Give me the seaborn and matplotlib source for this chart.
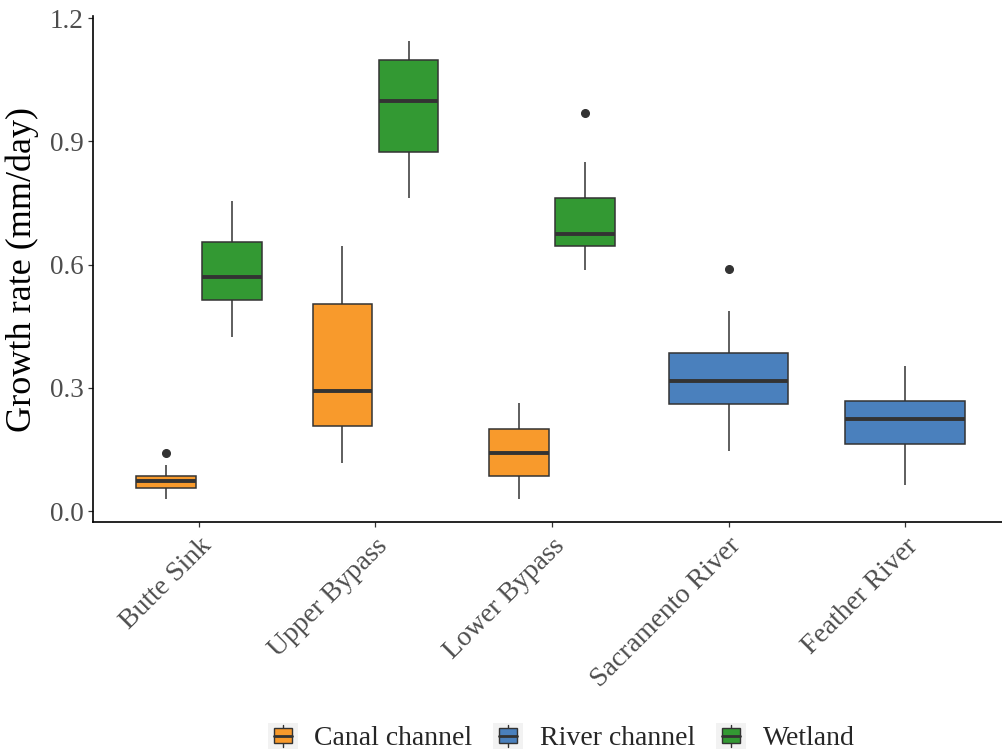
import matplotlib
matplotlib.use("Agg")
import matplotlib.pyplot as plt
from matplotlib.patches import Rectangle, Patch
from matplotlib.lines import Line2D
from matplotlib.legend_handler import HandlerBase
import numpy as np
import pandas as pd
import seaborn as sns

# Sites along the x axis and habitat types
sites = ["Butte Sink", "Upper Bypass", "Lower Bypass", "Sacramento River", "Feather River"]
habitats = ["Canal channel", "River channel", "Wetland"]
colors = ["#F89A2C", "#4A80BD", "#339933"]

# Growth-rate observations (mm/day) per site and habitat
butte_canal = [0.030, 0.045, 0.056, 0.064, 0.072, 0.078, 0.085, 0.113, 0.142]
butte_wetland = [0.423, 0.470, 0.514, 0.540, 0.570, 0.610, 0.655, 0.700, 0.754]
upper_canal = [0.118, 0.160, 0.206, 0.250, 0.293, 0.400, 0.505, 0.580, 0.645]
upper_wetland = [0.763, 0.820, 0.873, 0.940, 0.998, 1.050, 1.099, 1.120, 1.143]
lower_canal = [0.029, 0.060, 0.085, 0.110, 0.142, 0.170, 0.199, 0.230, 0.263]
lower_wetland = [0.586, 0.620, 0.646, 0.660, 0.674, 0.720, 0.763, 0.850, 0.968]
sacramento_river = [0.146, 0.210, 0.260, 0.290, 0.317, 0.350, 0.384, 0.487, 0.589]
feather_river = [0.0625, 0.110, 0.164, 0.190, 0.223, 0.250, 0.267, 0.310, 0.354]

groups = [
    ("Butte Sink", "Canal channel", butte_canal),
    ("Butte Sink", "Wetland", butte_wetland),
    ("Upper Bypass", "Canal channel", upper_canal),
    ("Upper Bypass", "Wetland", upper_wetland),
    ("Lower Bypass", "Canal channel", lower_canal),
    ("Lower Bypass", "Wetland", lower_wetland),
    ("Sacramento River", "River channel", sacramento_river),
    ("Feather River", "River channel", feather_river),
]
df = pd.DataFrame(
    [(s, h, v) for s, h, vals in groups for v in vals],
    columns=["site", "habitat", "growth"],
)

sns.set_theme(style="ticks")
plt.rcParams["font.family"] = ["Liberation Serif", "DejaVu Serif"]

fig = plt.figure(figsize=(10.03, 7.54), dpi=100)
W, H = 1003, 754
ax = fig.add_axes([93 / W, (H - 521.7) / H, (1011 - 93) / W, (521.7 - 16.4) / H])

line_c = "#333333"
common = dict(
    saturation=1,
    linecolor=line_c,
    linewidth=1.1,
    medianprops=dict(linewidth=2.8, color=line_c),
    whiskerprops=dict(linewidth=1.1, color=line_c),
    capprops=dict(linewidth=0),
    flierprops=dict(marker="o", markerfacecolor=line_c, markeredgecolor=line_c,
                    markersize=5.5),
    ax=ax,
)

pal = dict(zip(habitats, colors))

# Sites with two habitats: dodged boxes
paired = df[df["habitat"] != "River channel"]
sns.boxplot(data=paired, x="site", y="growth", hue="habitat", order=sites,
            hue_order=["Canal channel", "Wetland"], palette=pal,
            width=0.75, gap=0.1, dodge=True, legend=False, **common)

# River sites: a single box per site
river = df[df["habitat"] == "River channel"]
sns.boxplot(data=river, x="site", y="growth", order=sites,
            color=pal["River channel"], width=0.675, **common)

ax.set_xlim(-0.6, 4.6)
ax.set_ylim(-0.026, 1.204)
ax.set_yticks([0.0, 0.3, 0.6, 0.9, 1.2])
ax.set_yticklabels(["0.0", "0.3", "0.6", "0.9", "1.2"])
ax.set_xticks(range(len(sites)))
ax.set_xticklabels(sites, rotation=45, ha="right", va="top", rotation_mode="anchor")

for s in ["top", "right"]:
    ax.spines[s].set_visible(False)
for s in ["left", "bottom"]:
    ax.spines[s].set_color("black")
    ax.spines[s].set_linewidth(1.2)

ax.tick_params(axis="both", colors=line_c, length=3.5, width=0.9,
               labelsize=19.5, labelcolor="#4D4D4D", pad=3)
ax.tick_params(axis="x", pad=5, labelsize=20)
ax.set_xlabel("")
ax.set_ylabel("Growth rate (mm/day)", fontsize=26, color="black", labelpad=8)


class BoxKeyHandler(HandlerBase):
    def create_artists(self, legend, orig_handle, xdescent, ydescent,
                       width, height, fontsize, trans):
        x0, y0 = -xdescent, -ydescent
        fc = orig_handle.get_facecolor()
        bg = Rectangle((x0, y0), width, height, facecolor="#F2F2F2",
                       edgecolor="none", transform=trans)
        whisk = Line2D([x0 + width / 2] * 2, [y0 + 0.08 * height, y0 + 0.92 * height],
                       color=line_c, linewidth=1.0, transform=trans)
        box = Rectangle((x0 + 0.2 * width, y0 + 0.22 * height), 0.6 * width,
                        0.56 * height, facecolor=fc, edgecolor=line_c,
                        linewidth=1.0, transform=trans)
        med = Line2D([x0 + 0.2 * width, x0 + 0.8 * width], [y0 + height / 2] * 2,
                     color=line_c, linewidth=2.0, transform=trans)
        return [bg, whisk, box, med]


handles = [Patch(facecolor=c, label=h) for h, c in zip(habitats, colors)]
fig.legend(handles=handles, labels=habitats, loc="center",
           bbox_to_anchor=(561 / W, 1 - 737 / H), ncol=3, frameon=False,
           fontsize=20, handler_map={Patch: BoxKeyHandler()},
           handlelength=1.08, handleheight=1.08, handletextpad=0.6,
           columnspacing=0.75, borderpad=0)

fig.savefig("out.png", dpi=100)
